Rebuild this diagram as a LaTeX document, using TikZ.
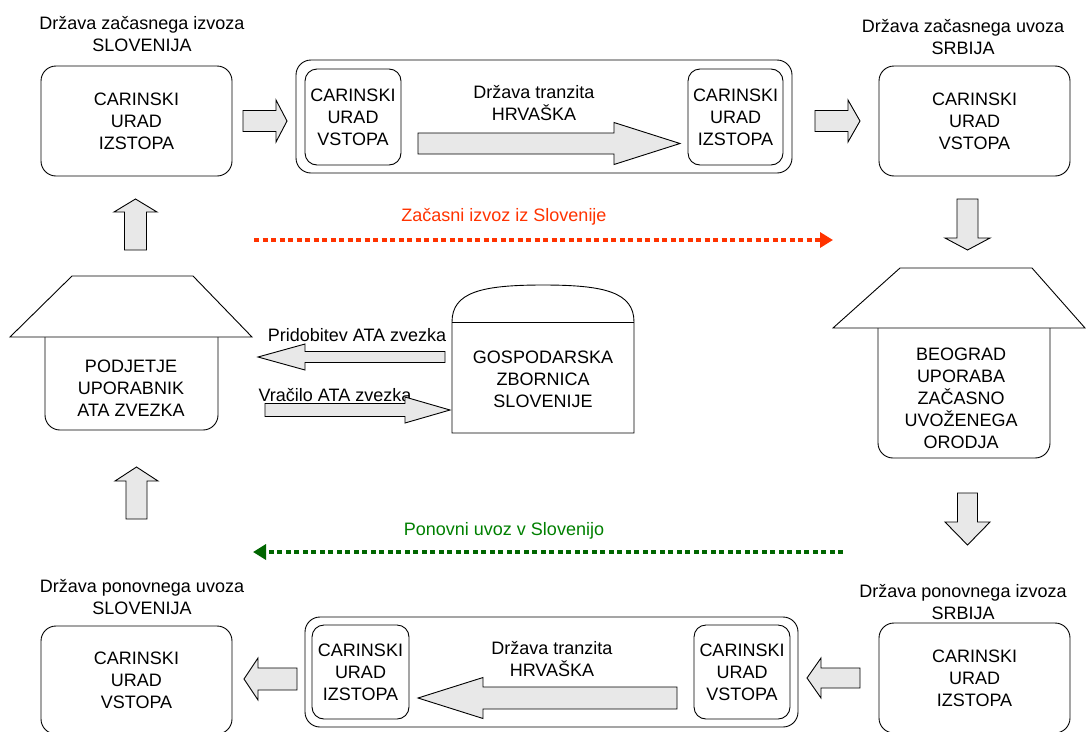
\documentclass[tikz,border=0pt]{standalone}
\usepackage{fontspec}
\setmainfont{Liberation Sans}
\usetikzlibrary{arrows.meta}
\definecolor{arrowgray}{HTML}{E8E8E8}
\definecolor{redorange}{HTML}{FF3300}
\definecolor{dkgreen}{HTML}{006600}
\definecolor{txtgreen}{HTML}{008000}
% horizontal block arrow: tail x, tip x, centre y, shaft half, head half, head-base x
\newcommand\blockH[6]{\filldraw[blockarrow] (#1,#3-#4) -- (#6,#3-#4) -- (#6,#3-#5) -- (#2,#3) -- (#6,#3+#5) -- (#6,#3+#4) -- (#1,#3+#4) -- cycle;}
% vertical block arrow: tail y, tip y, centre x, shaft half, head half, head-base y
\newcommand\blockV[6]{\filldraw[blockarrow] (#3-#4,#1) -- (#3-#4,#6) -- (#3-#5,#6) -- (#3,#2) -- (#3+#5,#6) -- (#3+#4,#6) -- (#3+#4,#1) -- cycle;}
\begin{document}
\begin{tikzpicture}[x=1pt,y=-1pt,
  font=\fontsize{18}{22}\selectfont,
  outline/.style={draw=black, line width=0.9pt},
  box/.style={outline, rounded corners=15pt, fill=white, align=center, inner sep=0pt},
  innerbox/.style={outline, rounded corners=12pt, fill=white, align=center, inner sep=0pt},
  blockarrow/.style={outline, fill=arrowgray, line join=miter},
  lbl/.style={align=center, inner sep=0pt},
  dotline/.style={line width=4pt, dash pattern=on 5pt off 3.5pt, -{Triangle[length=13pt,width=15pt]}}]
\clip (0,0) rectangle (1086,731);
\fill[white] (0,0) rectangle (1086,731);

% ---------- top row ----------
\node[lbl] (lblTL) at (142,34) {Država začasnega izvoza\\SLOVENIJA};
\node[box, minimum width=191pt, minimum height=110pt] (izstopSI) at (136.5,121) {CARINSKI\\URAD\\IZSTOPA};
\blockH{243}{287}{121}{10.5}{21}{276}

\node[box, minimum width=496pt, minimum height=113pt] (tranzitTop) at (544,116.5) {};
\node[innerbox, minimum width=96pt, minimum height=96pt] (vstopHR) at (353,117) {CARINSKI\\URAD\\VSTOPA};
\node[innerbox, minimum width=95pt, minimum height=96pt] (izstopHR) at (735.5,117) {CARINSKI\\URAD\\IZSTOPA};
\node[lbl] (lblTT) at (534,103) {Država tranzita\\HRVAŠKA};
\blockH{418}{680}{143.5}{10.5}{21}{614}

\blockH{815}{860}{121}{10.5}{21}{848}
\node[lbl] (lblTR) at (963,37) {Država začasnega uvoza\\SRBIJA};
\node[box, minimum width=191pt, minimum height=110pt] (vstopRS) at (974.5,121) {CARINSKI\\URAD\\VSTOPA};

% vertical arrows
\blockV{250}{199}{135.5}{11}{21.5}{212}
\blockV{199}{250}{967.5}{10.5}{22.5}{238}
\blockV{493}{545}{967.5}{10}{22.5}{522}
\blockV{519}{467}{136.5}{10.5}{21.5}{481}

% red dotted arrow
\coordinate (r0) at (254,240);
\coordinate (r1) at (833,240);
\draw[dotline, redorange] (r0) -- (r1);
\node[lbl, text=redorange] (lblRed) at (504,217) {Začasni izvoz iz Slovenije};

% ---------- middle ----------
% left house
\draw[outline, fill=white, rounded corners=15pt] (45,337) -- (45,430) -- (218,430) -- (218,337);
\filldraw[outline, fill=white] (10,337) -- (72,276) -- (193,276) -- (252,337) -- cycle;
\node[lbl] (podjetje) at (131,388) {PODJETJE\\UPORABNIK\\ATA ZVEZKA};

% chamber of commerce
\filldraw[outline, fill=white] (452,433) -- (452,322) .. controls (452,292) and (482,285) .. (543,285) .. controls (604,285) and (634,292) .. (634,322) -- (634,433) -- cycle;
\draw[outline] (452,322) -- (634,322);
\node[lbl] (gzs) at (543,379) {GOSPODARSKA\\ZBORNICA\\SLOVENIJE};

\node[lbl, anchor=south] (lblPrid) at (357,342) {Pridobitev ATA zvezka};
\blockH{445}{258}{357}{5.5}{13}{305}
\node[lbl, anchor=south] (lblVrac) at (335,402) {Vračilo ATA zvezka};
\blockH{265}{450}{410}{6.5}{13}{405}

% right house
\draw[outline, fill=white, rounded corners=15pt] (878,328) -- (878,458) -- (1050,458) -- (1050,328);
\filldraw[outline, fill=white] (833,328) -- (900,268) -- (1032,268) -- (1085,328) -- cycle;
\node[lbl] (beograd) at (961,398) {BEOGRAD\\UPORABA\\ZAČASNO\\UVOŽENEGA\\ORODJA};

% green dotted arrow
\coordinate (g0) at (843,552);
\coordinate (g1) at (253,552);
\draw[dotline, dkgreen] (g0) -- (g1);
\node[lbl, text=txtgreen] (lblGreen) at (504,531) {Ponovni uvoz v Slovenijo};

% ---------- bottom row ----------
\node[lbl] (lblBL) at (142,597) {Država ponovnega uvoza\\SLOVENIJA};
\node[box, minimum width=191pt, minimum height=108pt] (vstopSI) at (136.5,680) {CARINSKI\\URAD\\VSTOPA};
\blockH{297}{244}{679}{11}{21}{258}

\node[box, minimum width=493pt, minimum height=110pt] (tranzitBot) at (551.5,672) {};
\node[innerbox, minimum width=97pt, minimum height=94pt] (izstopHR2) at (360.5,672) {CARINSKI\\URAD\\IZSTOPA};
\node[innerbox, minimum width=96pt, minimum height=94pt] (vstopHR2) at (742,672) {CARINSKI\\URAD\\VSTOPA};
\node[lbl] (lblBT) at (552,659.5) {Država tranzita\\HRVAŠKA};
\blockH{677}{418}{698}{11}{20.5}{483}

\blockH{860}{807}{678}{10}{20}{821}
\node[lbl] (lblBR) at (963,602) {Država ponovnega izvoza\\SRBIJA};
\node[box, minimum width=191pt, minimum height=110pt] (izstopRS) at (974.5,678) {CARINSKI\\URAD\\IZSTOPA};
\end{tikzpicture}
\end{document}
